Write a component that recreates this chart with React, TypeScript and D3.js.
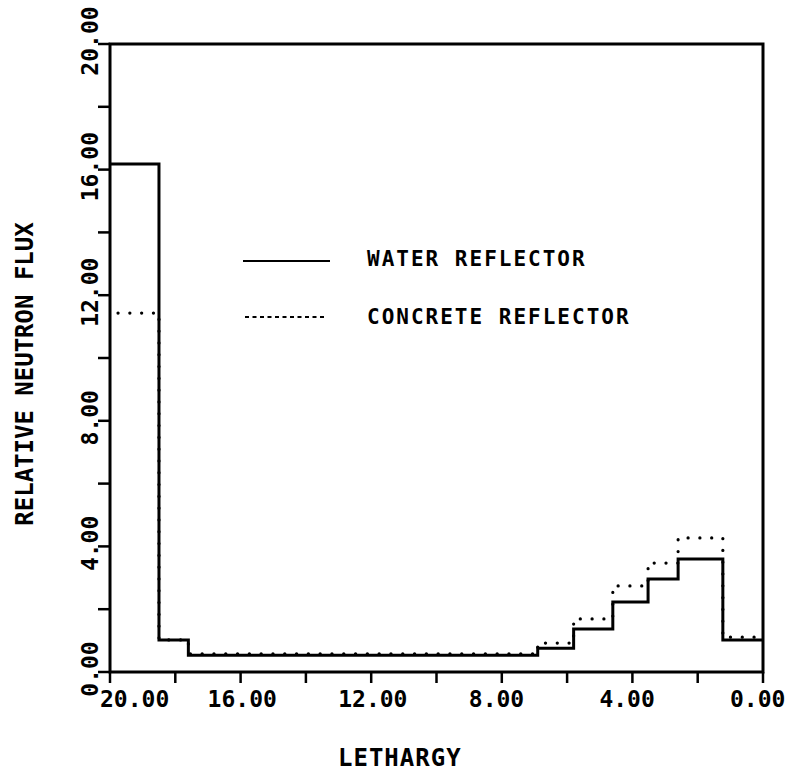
import React from "react";
import * as d3 from "d3";

const binEdges = [20, 18.5, 17.6, 6.9, 5.8, 4.6, 3.52, 2.6, 1.23, 0];
const waterFlux = [16.18, 1.02, 0.53, 0.76, 1.37, 2.23, 2.96, 3.6, 1.02];
const concreteFlux = [11.43, 1.02, 0.58, 0.92, 1.69, 2.74, 3.47, 4.27, 1.11];
const xTickValues = [20, 18, 16, 14, 12, 10, 8, 6, 4, 2, 0];
const xLabelValues = [20, 16, 12, 8, 4, 0];
const yTickValues = [0, 2, 4, 6, 8, 10, 12, 14, 16, 18, 20];
const yLabelValues = [0, 4, 8, 12, 16, 20];
const seriesNames = ["WATER REFLECTOR", "CONCRETE REFLECTOR"];

const W = 790;
const H = 774;
const FONT = "'DejaVu Sans Mono', monospace";

export default function App() {
  const x = d3.scaleLinear().domain([20, 0]).range([110, 763]);
  const y = d3.scaleLinear().domain([0, 20]).range([672, 44]);
  const fmt = d3.format(".2f");

  const toPts = (vals: number[]) => {
    const pts: [number, number][] = vals.map((v, i) => [binEdges[i], v]);
    pts.push([binEdges[binEdges.length - 1], vals[vals.length - 1]]);
    return pts;
  };
  const line = d3
    .line<[number, number]>()
    .x((d) => x(d[0]))
    .y((d) => y(d[1]))
    .curve(d3.curveStepAfter);

  const x0 = x(20);
  const x1 = x(0);
  const yb = y(0);
  const yt = y(20);

  return (
    <svg
      width={W}
      height={H}
      style={{ position: "absolute", left: 0, top: 0, background: "#fff" }}
    >
      <rect x={0} y={0} width={W} height={H} fill="#fff" />
      {/* frame */}
      <rect
        x={x0}
        y={yt}
        width={x1 - x0}
        height={yb - yt}
        fill="none"
        stroke="#000"
        strokeWidth={3}
      />
      {/* x ticks */}
      {xTickValues.map((v) => (
        <line
          key={"xt" + v}
          x1={x(v)}
          x2={x(v)}
          y1={yb}
          y2={yb + 11}
          stroke="#000"
          strokeWidth={2.5}
        />
      ))}
      {xLabelValues.map((v, i) => (
        <text
          key={"xl" + v}
          x={x(v) + (i === 0 ? -10 : -33)}
          y={707}
          fontFamily={FONT}
          fontSize={23}
          fontWeight="bold"
          fill="#000"
        >
          {fmt(v)}
        </text>
      ))}
      {/* y ticks */}
      {yTickValues.map((v) => (
        <line
          key={"yt" + v}
          x1={x0 - 12}
          x2={x0}
          y1={y(v)}
          y2={y(v)}
          stroke="#000"
          strokeWidth={2.5}
        />
      ))}
      {yLabelValues.map((v) => (
        <text
          key={"yl" + v}
          transform={`translate(98,${y(v) - 3}) rotate(-90)`}
          textAnchor="middle"
          fontFamily={FONT}
          fontSize={23}
          fontWeight="bold"
          fill="#000"
        >
          {fmt(v)}
        </text>
      ))}
      {/* data */}
      <path
        d={line(toPts(concreteFlux)) || ""}
        fill="none"
        stroke="#000"
        strokeWidth={3.2}
        strokeDasharray="0.1 11.7"
        strokeDashoffset={-8}
        strokeLinecap="round"
      />
      <path
        d={line(toPts(waterFlux)) || ""}
        fill="none"
        stroke="#000"
        strokeWidth={3}
      />
      {/* legend */}
      <line x1={243} x2={330} y1={261} y2={261} stroke="#000" strokeWidth={2} />
      <text
        x={367}
        y={266}
        fontFamily={FONT}
        fontSize={21}
        fontWeight="bold"
        letterSpacing={2}
        fill="#000"
      >
        {seriesNames[0]}
      </text>
      <line
        x1={245}
        x2={327}
        y1={317}
        y2={317}
        stroke="#000"
        strokeWidth={2}
        strokeDasharray="4 3.5"
      />
      <text
        x={367}
        y={324}
        fontFamily={FONT}
        fontSize={21}
        fontWeight="bold"
        letterSpacing={2}
        fill="#000"
      >
        {seriesNames[1]}
      </text>
      {/* axis titles */}
      <text
        x={338}
        y={766}
        fontFamily={FONT}
        fontSize={24}
        fontWeight="bold"
        letterSpacing={1}
        fill="#000"
      >
        LETHARGY
      </text>
      <text
        transform={`translate(33,374) rotate(-90)`}
        textAnchor="middle"
        fontFamily={FONT}
        fontSize={24}
        fontWeight="bold"
        fill="#000"
      >
        RELATIVE NEUTRON FLUX
      </text>
    </svg>
  );
}
